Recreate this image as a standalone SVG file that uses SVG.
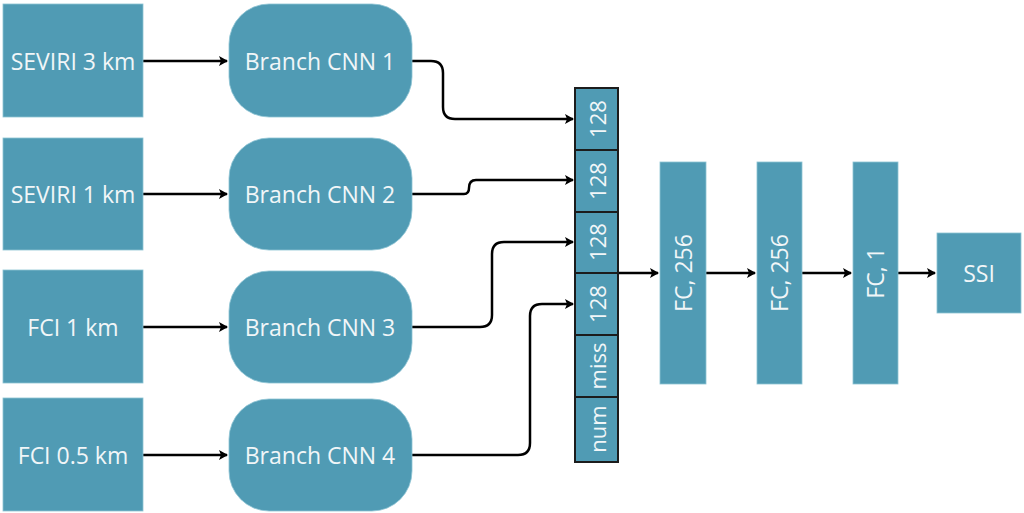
<svg xmlns="http://www.w3.org/2000/svg" width="1024" height="513" viewBox="0 0 1024 513">
<style>
.box{fill:#509bb4;stroke:#8cc3d3;stroke-width:0.8}
.cell{fill:#509bb4;stroke:#1c1c1c;stroke-width:2}
.t{font-family:"Open Sans","Liberation Sans",sans-serif;font-size:23px;fill:#f1f6f8;text-anchor:middle;dominant-baseline:central}
.s{font-size:22px}
.c{fill:none;stroke:#000;stroke-width:2.5}
</style>
<defs>
<marker id="ah" viewBox="0 0 10 10" refX="9" refY="5" markerWidth="4" markerHeight="4" orient="auto" markerUnits="strokeWidth">
<path d="M1,0 L10,5 L1,10 L3,5 Z" fill="#000"/>
</marker>
</defs>
<rect width="1024" height="513" fill="#fff"/>
<g id="connectors">
<path class="c" d="M143,61 H227" marker-end="url(#ah)"/>
<path class="c" d="M143,194 H227" marker-end="url(#ah)"/>
<path class="c" d="M143,327 H227" marker-end="url(#ah)"/>
<path class="c" d="M143,455 H227" marker-end="url(#ah)"/>
<path class="c" d="M412,61 H431 Q443,61 443,73 V107 Q443,119 455,119 H573" marker-end="url(#ah)"/>
<path class="c" d="M412,194 H464 Q469,194 469,188 Q469,180 476,180 H573" marker-end="url(#ah)"/>
<path class="c" d="M412,327 H480 Q492,327 492,315 V254 Q492,242 504,242 H573" marker-end="url(#ah)"/>
<path class="c" d="M412,455 H518 Q530,455 530,443 V316 Q530,304 542,304 H573" marker-end="url(#ah)"/>
<path class="c" d="M618,273 H658" marker-end="url(#ah)"/>
<path class="c" d="M706,273 H755" marker-end="url(#ah)"/>
<path class="c" d="M802,273 H851" marker-end="url(#ah)"/>
<path class="c" d="M898,273 H935" marker-end="url(#ah)"/>
</g>
<g id="in1"><rect class="box" x="3" y="4" width="140" height="113"/><text class="t" x="73" y="61">SEVIRI 3 km</text></g>
<g id="in2"><rect class="box" x="3" y="138" width="140" height="112"/><text class="t" x="73" y="194">SEVIRI 1 km</text></g>
<g id="in3"><rect class="box" x="3" y="270" width="140" height="113"/><text class="t" x="73" y="327">FCI 1 km</text></g>
<g id="in4"><rect class="box" x="3" y="398" width="140" height="113"/><text class="t" x="73" y="455">FCI 0.5 km</text></g>
<g id="cnn1"><rect class="box" x="229" y="4" width="183" height="113" rx="40"/><text class="t" x="320" y="61">Branch CNN 1</text></g>
<g id="cnn2"><rect class="box" x="229" y="138" width="183" height="112" rx="40"/><text class="t" x="320" y="194">Branch CNN 2</text></g>
<g id="cnn3"><rect class="box" x="229" y="271" width="183" height="112" rx="40"/><text class="t" x="320" y="327">Branch CNN 3</text></g>
<g id="cnn4"><rect class="box" x="229" y="399" width="183" height="112" rx="40"/><text class="t" x="320" y="455">Branch CNN 4</text></g>
<g id="stack">
<rect class="cell" x="575" y="88" width="43" height="62"/><text class="t s" transform="translate(597,119) rotate(-90)">128</text>
<rect class="cell" x="575" y="150" width="43" height="62"/><text class="t s" transform="translate(597,181) rotate(-90)">128</text>
<rect class="cell" x="575" y="212" width="43" height="61"/><text class="t s" transform="translate(597,242) rotate(-90)">128</text>
<rect class="cell" x="575" y="273" width="43" height="62"/><text class="t s" transform="translate(597,304) rotate(-90)">128</text>
<rect class="cell" x="575" y="335" width="43" height="62"/><text class="t s" transform="translate(597,366) rotate(-90)">miss</text>
<rect class="cell" x="575" y="397" width="43" height="65"/><text class="t s" transform="translate(597,429) rotate(-90)">num</text>
</g>
<g id="fc1"><rect class="box" x="660" y="162" width="46" height="222"/><text class="t" transform="translate(683,273) rotate(-90)">FC, 256</text></g>
<g id="fc2"><rect class="box" x="757" y="162" width="45" height="222"/><text class="t" transform="translate(779,273) rotate(-90)">FC, 256</text></g>
<g id="fc3"><rect class="box" x="853" y="162" width="45" height="222"/><text class="t" transform="translate(875,273) rotate(-90)">FC, 1</text></g>
<g id="ssi"><rect class="box" x="937" y="233" width="84" height="80"/><text class="t" x="979" y="273">SSI</text></g>
</svg>
